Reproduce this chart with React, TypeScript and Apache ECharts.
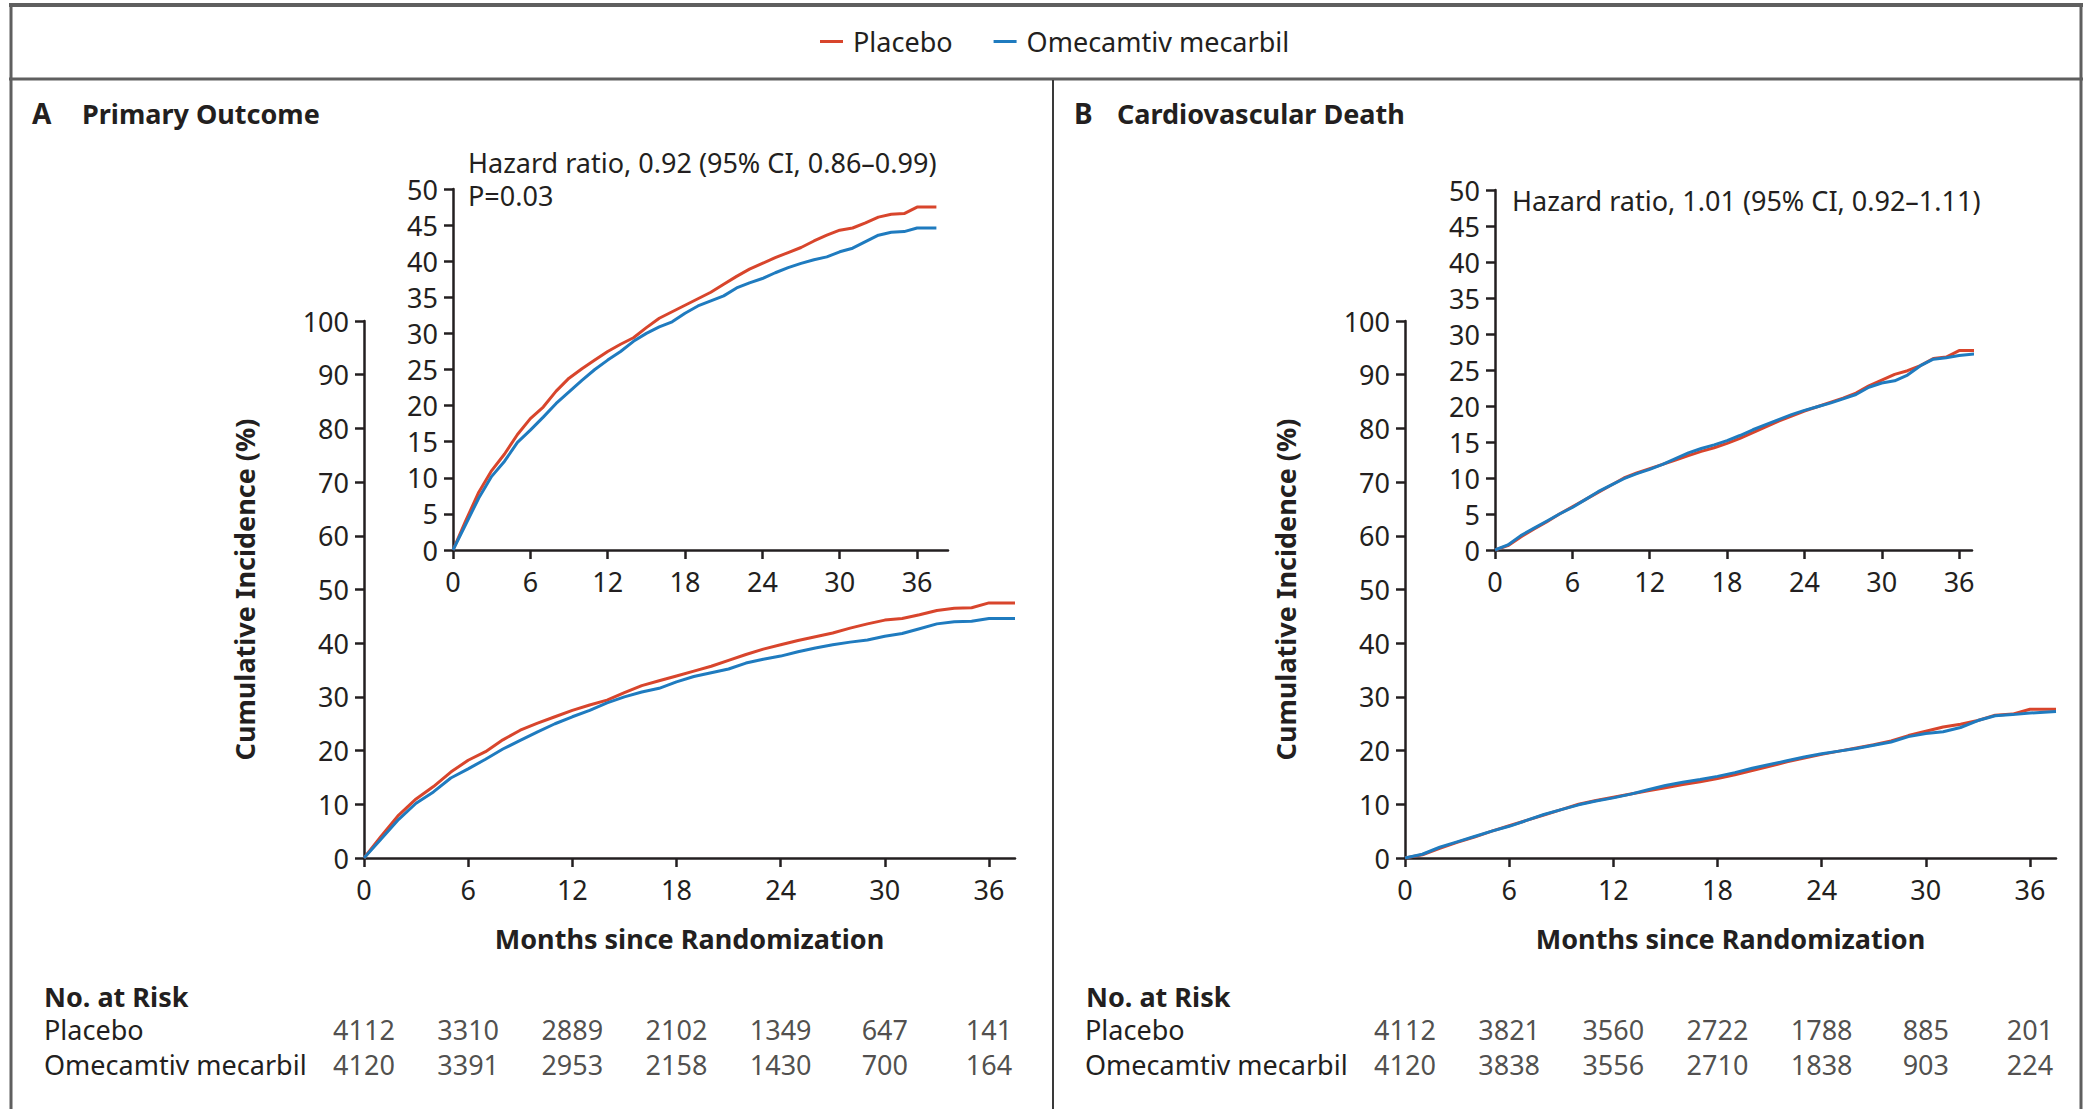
import React, { useEffect, useRef } from "react";
import * as echarts from "echarts";

// ---- data ----
const months = [0, 1, 2, 3, 4, 5, 6, 7, 8, 9, 10, 11, 12, 13, 14, 15, 16, 17, 18, 19, 20, 21, 22, 23, 24, 25, 26, 27, 28, 29, 30, 31, 32, 33, 34, 35, 36, 37.5];
const placeboA = [0, 4.1, 8.0, 11.0, 13.3, 16.0, 18.2, 19.8, 22.0, 23.8, 25.1, 26.3, 27.5, 28.5, 29.4, 30.8, 32.1, 33.0, 33.9, 34.8, 35.7, 36.8, 37.9, 38.9, 39.7, 40.5, 41.2, 41.9, 42.8, 43.6, 44.3, 44.6, 45.3, 46.1, 46.5, 46.6, 47.5, 47.5];
const omecamtivA = [0, 3.6, 7.2, 10.2, 12.3, 14.9, 16.6, 18.4, 20.3, 21.9, 23.5, 25.0, 26.3, 27.5, 28.9, 30.0, 30.9, 31.6, 32.8, 33.8, 34.5, 35.2, 36.3, 37.0, 37.6, 38.4, 39.1, 39.7, 40.2, 40.6, 41.3, 41.8, 42.7, 43.6, 44.0, 44.1, 44.6, 44.6];
const placeboB = [0, 0.6, 1.8, 2.9, 3.9, 5.0, 6.0, 7.0, 8.0, 9.0, 10.0, 10.7, 11.3, 11.9, 12.5, 13.1, 13.7, 14.2, 14.8, 15.5, 16.3, 17.1, 17.9, 18.6, 19.3, 19.9, 20.5, 21.1, 21.8, 22.8, 23.6, 24.4, 24.9, 25.6, 26.6, 26.8, 27.7, 27.7];
const omecamtivB = [0, 0.7, 2.0, 3.0, 4.0, 5.0, 5.9, 7.0, 8.1, 9.0, 9.9, 10.6, 11.2, 11.9, 12.7, 13.5, 14.1, 14.6, 15.2, 15.9, 16.7, 17.4, 18.1, 18.8, 19.4, 19.9, 20.4, 21.0, 21.6, 22.6, 23.2, 23.5, 24.3, 25.6, 26.5, 26.7, 27.0, 27.3];

const xTicks = [0, 6, 12, 18, 24, 30, 36];
const riskMonths = [0, 6, 12, 18, 24, 30, 36];
const riskRows = ["Placebo", "Omecamtiv mecarbil"];
const placeboRiskA = [4112, 3310, 2889, 2102, 1349, 647, 141];
const omecamtivRiskA = [4120, 3391, 2953, 2158, 1430, 700, 164];
const placeboRiskB = [4112, 3821, 3560, 2722, 1788, 885, 201];
const omecamtivRiskB = [4120, 3838, 3556, 2710, 1838, 903, 224];

const FONT = "Noto Sans";
const INK = "#231f20";
const RED = "#d8452c";
const BLUE = "#1f7bbf";
const FS = 27;

function xAxisCfg(gridIndex: number, max: number, name?: string) {
  return {
    type: "value",
    gridIndex,
    min: 0,
    max,
    name: name || "",
    nameLocation: "middle",
    nameGap: 67,
    nameTextStyle: { fontFamily: FONT, fontSize: FS, fontWeight: "bold", color: INK },
    axisLine: { show: true, onZero: false, lineStyle: { color: INK, width: 2.5 } },
    axisTick: { show: true, length: 9, customValues: xTicks, lineStyle: { color: INK, width: 2.5 } },
    axisLabel: { show: true, customValues: xTicks, fontFamily: FONT, fontSize: FS, color: INK, margin: 18 },
    splitLine: { show: false },
  };
}

function yAxisCfg(gridIndex: number, max: number, interval: number, name?: string) {
  return {
    type: "value",
    gridIndex,
    min: 0,
    max,
    interval,
    name: name || "",
    nameLocation: "middle",
    nameRotate: 90,
    nameGap: 106,
    nameTextStyle: { fontFamily: FONT, fontSize: FS, fontWeight: "bold", color: INK },
    axisLine: { show: true, lineStyle: { color: INK, width: 2.5 } },
    axisTick: { show: true, length: 9, lineStyle: { color: INK, width: 2.5 } },
    axisLabel: { show: true, fontFamily: FONT, fontSize: FS, color: INK, margin: 15 },
    splitLine: { show: false },
  };
}

function riskX(gridIndex: number, max: number) {
  return { type: "value", gridIndex, min: 0, max, show: false, splitLine: { show: false } };
}
function riskY(gridIndex: number) {
  return {
    type: "category",
    gridIndex,
    data: riskRows,
    inverse: true,
    axisLine: { show: false },
    axisTick: { show: false },
    splitLine: { show: false },
    axisLabel: { show: true, interval: 0, align: "left", margin: 320, fontFamily: FONT, fontSize: FS, color: INK },
  };
}

function lineSeries(name: string, xi: number, ys: number[], color: string, clip = true) {
  return {
    type: "line",
    name,
    xAxisIndex: xi,
    yAxisIndex: xi,
    data: months.map((m, i) => [m, ys[i]]),
    showSymbol: false,
    symbol: "none",
    clip,
    silent: true,
    lineStyle: { color, width: 3 },
    itemStyle: { color },
  };
}

function riskSeries(name: string, xi: number, p: number[], o: number[]) {
  const data: any[] = [];
  riskMonths.forEach((m, i) => data.push([m, riskRows[0], p[i]]));
  riskMonths.forEach((m, i) => data.push([m, riskRows[1], o[i]]));
  return {
    type: "scatter",
    name,
    xAxisIndex: xi,
    yAxisIndex: xi,
    data,
    symbolSize: 1,
    silent: true,
    itemStyle: { color: "rgba(0,0,0,0)" },
    label: {
      show: true,
      position: "inside",
      formatter: (pr: any) => String(pr.value[2]),
      fontFamily: FONT,
      fontSize: FS,
      color: INK,
    },
  };
}

function txt(x: number, y: number, text: string, bold = false, size = FS) {
  return {
    type: "text",
    x,
    y,
    silent: true,
    style: {
      text,
      fill: INK,
      fontFamily: FONT,
      fontSize: size,
      lineHeight: 29,
      fontWeight: bold ? "bold" : "normal",
      align: "left",
      verticalAlign: "middle",
    },
  };
}
function ln(x1: number, y1: number, x2: number, y2: number, w: number, c: string) {
  return { type: "line", silent: true, shape: { x1, y1, x2, y2 }, style: { stroke: c, lineWidth: w } };
}

export default function App() {
  const ref = useRef<HTMLDivElement>(null);
  useEffect(() => {
    document.body.style.margin = "0";
    if (!ref.current) return;
    const chart = echarts.init(ref.current, undefined, { renderer: "svg" });
    chart.setOption({
      animation: false,
      backgroundColor: "#ffffff",
      legend: {
        data: ["Placebo", "Omecamtiv mecarbil"],
        left: 815,
        top: 23,
        icon: "rect",
        itemWidth: 23,
        itemHeight: 3,
        itemGap: 41,
        selectedMode: false,
        textStyle: { fontFamily: FONT, fontSize: FS, color: INK, padding: [0, 0, 0, 5] },
      },
      grid: [
        { left: 364, top: 321, width: 651, height: 537 },
        { left: 453, top: 189, width: 495, height: 361 },
        { left: 1405, top: 321, width: 651, height: 537 },
        { left: 1495, top: 190, width: 477, height: 360 },
        { left: 364, top: 1012, width: 651, height: 70 },
        { left: 1405, top: 1012, width: 651, height: 70 },
      ],
      xAxis: [
        xAxisCfg(0, 37.5, "Months since Randomization"),
        xAxisCfg(1, 38.4),
        xAxisCfg(2, 37.5, "Months since Randomization"),
        xAxisCfg(3, 37.0),
        riskX(4, 37.5),
        riskX(5, 37.5),
      ],
      yAxis: [
        yAxisCfg(0, 100, 10, "Cumulative Incidence (%)"),
        yAxisCfg(1, 50, 5),
        yAxisCfg(2, 100, 10, "Cumulative Incidence (%)"),
        yAxisCfg(3, 50, 5),
        riskY(4),
        riskY(5),
      ],
      series: [
        lineSeries("Placebo", 0, placeboA, RED),
        lineSeries("Omecamtiv mecarbil", 0, omecamtivA, BLUE),
        lineSeries("Placebo", 1, placeboA, RED),
        lineSeries("Omecamtiv mecarbil", 1, omecamtivA, BLUE),
        lineSeries("Placebo", 2, placeboB, RED),
        lineSeries("Omecamtiv mecarbil", 2, omecamtivB, BLUE),
        lineSeries("Placebo", 3, placeboB, RED, false),
        lineSeries("Omecamtiv mecarbil", 3, omecamtivB, BLUE, false),
        riskSeries("riskA", 4, placeboRiskA, omecamtivRiskA),
        riskSeries("riskB", 5, placeboRiskB, omecamtivRiskB),
      ],
      graphic: [
        ln(9, 5, 2083, 5, 4, "#5f5f5f"),
        ln(11, 5, 11, 1109, 3, "#5f5f5f"),
        ln(2081, 5, 2081, 1109, 3, "#5f5f5f"),
        ln(9, 79, 2083, 79, 3, "#5f5f5f"),
        ln(1053, 80, 1053, 1109, 2, "#3a3a3a"),
        txt(32, 113, "A", true, 28),
        txt(82, 113, "Primary Outcome", true),
        txt(1074, 113, "B", true, 28),
        txt(1117, 113, "Cardiovascular Death", true),
        txt(468, 162, "Hazard ratio, 0.92 (95% CI, 0.86–0.99)"),
        txt(468, 195, "P=0.03"),
        txt(1512, 200, "Hazard ratio, 1.01 (95% CI, 0.92–1.11)"),
        txt(44, 996, "No. at Risk", true),
        txt(1086, 996, "No. at Risk", true),
      ],
    });
    return () => chart.dispose();
  }, []);
  return <div ref={ref} style={{ width: 2085, height: 1109 }} />;
}
